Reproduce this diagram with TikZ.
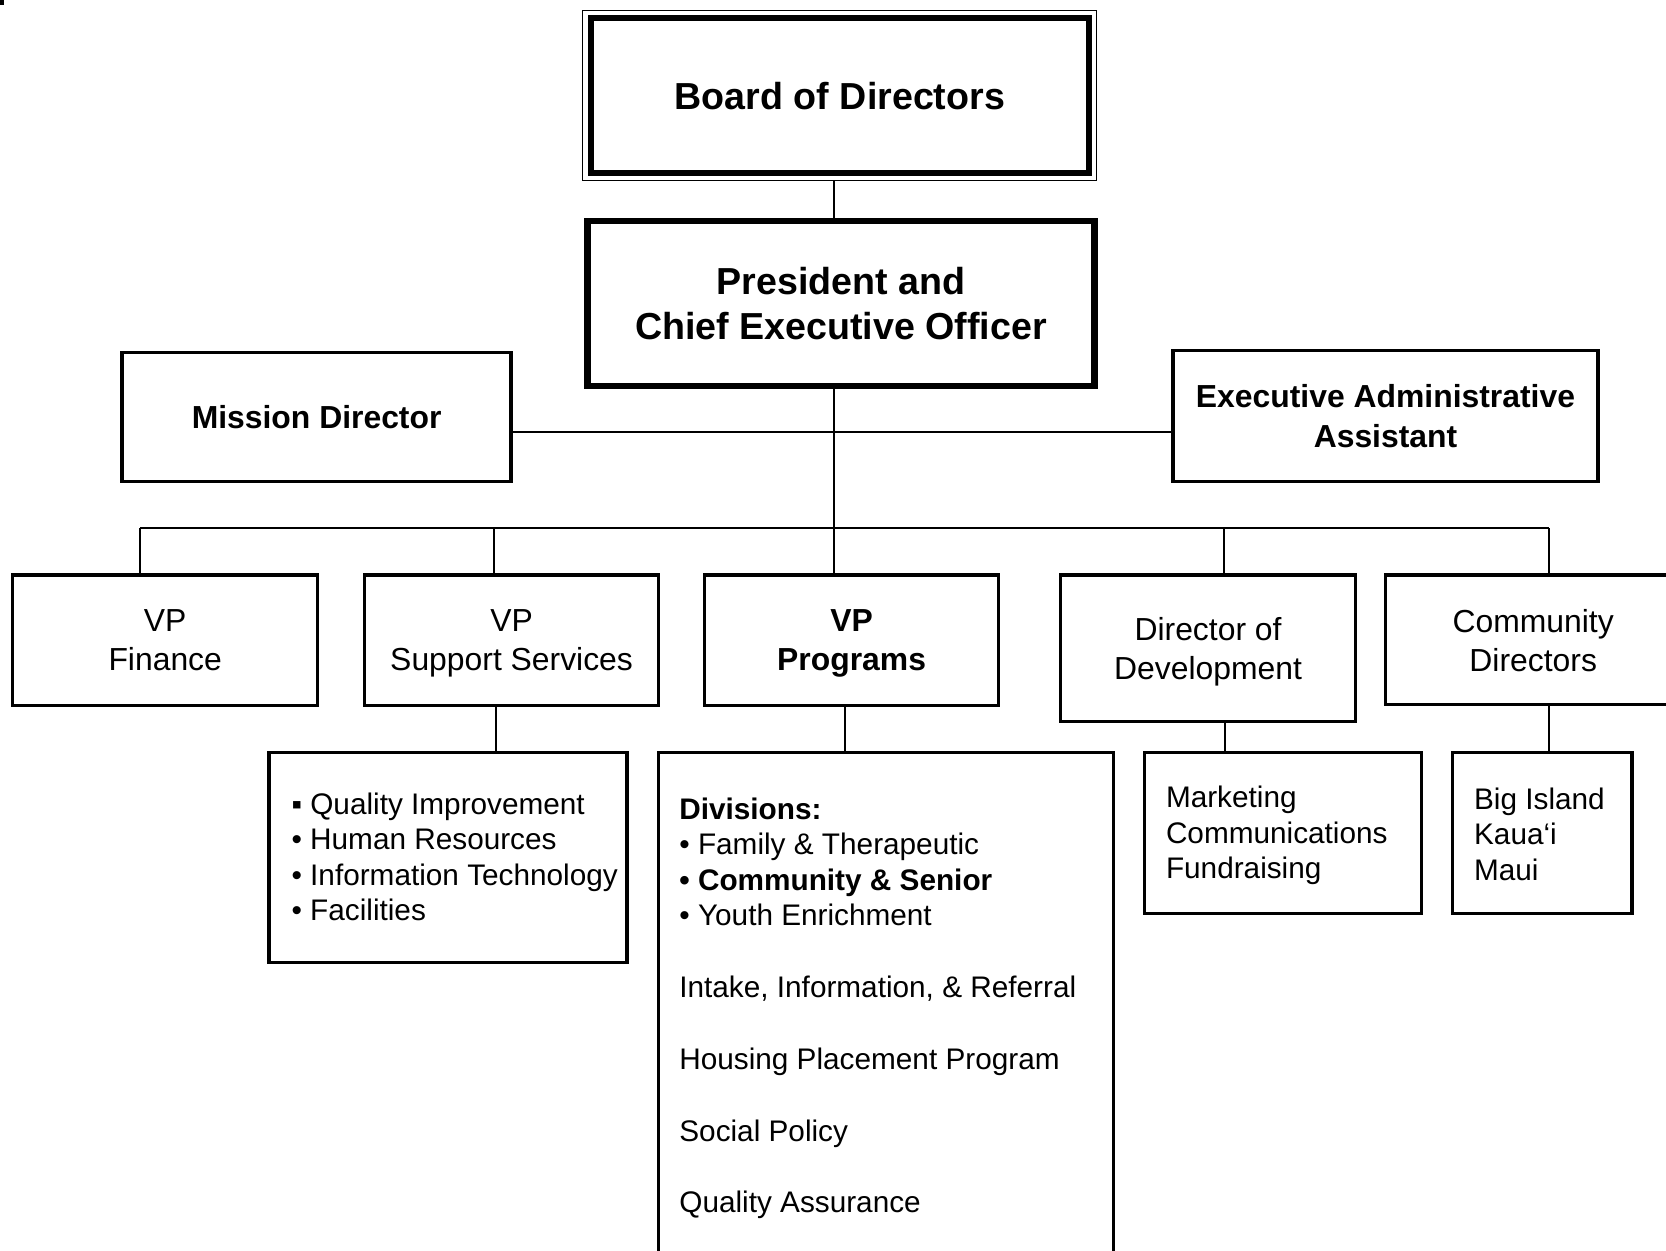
\documentclass[tikz,border=0pt]{standalone}
\usepackage{fontspec}
\setmainfont{Liberation Sans}
\begin{document}
\begin{tikzpicture}[x=0.5pt,y=-0.5pt,
  box/.style={draw, line width=1.6pt, inner sep=0pt, align=center},
  link/.style={line width=0.9pt},
  head/.style={font=\fontsize{15}{18.5}\selectfont, text depth=0pt},
  headb/.style={font=\fontsize{15}{18.5}\selectfont\bfseries, text depth=0pt},
  topb/.style={font=\fontsize{17.7}{21}\selectfont\bfseries},
  list/.style={font=\fontsize{14}{16.75}\selectfont, align=left, inner sep=0pt, anchor=west}
]
\useasboundingbox (0,0) rectangle (1568,1177);
\begin{scope}
\clip (0,0) rectangle (1568,1177);

% corner mark
\fill (0,0) rectangle (4,5);

% top levels
\node[box, line width=0.7pt, minimum width=242pt, minimum height=80pt] (boardout) at (790,90) {};
\node[box, line width=2.6pt, minimum width=234.5pt, minimum height=73pt, topb] (board) at (790.5,90) {Board of Directors};
\node[box, line width=3pt, minimum width=238.5pt, minimum height=77.5pt, topb] (ceo) at (791.5,285.5) {President and\\Chief Executive Officer};
\node[box, minimum width=183pt, minimum height=60.5pt, headb] (mission) at (298,392.5) {Mission Director};
\node[box, minimum width=200pt, minimum height=61.5pt, headb] (exec) at (1304,391.5) {Executive Administrative\\Assistant};

% second level
\node[box, minimum width=143.5pt, minimum height=61.5pt, head] (fin) at (155.5,602.5) {VP\\Finance};
\node[box, minimum width=138.5pt, minimum height=61.5pt, head] (sup) at (481.5,602.5) {VP\\Support Services};
\node[box, minimum width=138.5pt, minimum height=61.5pt, headb] (prog) at (801.5,602.5) {VP\\Programs};
\node[box, minimum width=139pt, minimum height=69pt, head] (dev) at (1137,610) {Director of\\Development};
\node[box, minimum width=148pt, minimum height=61pt] (com) at (1452,602) {};
\node[head, align=center, inner sep=0pt] (comtext) at (1443,603) {Community\\Directors};

% third level
\node[box, minimum width=168.5pt, minimum height=99pt] (suplist) at (421.5,807) {};
\node[box, minimum width=214pt, minimum height=296pt] (proglist) at (834,1004) {};
\node[box, minimum width=130.5pt, minimum height=76pt] (mkt) at (1207.5,784) {};
\node[box, minimum width=84.5pt, minimum height=76pt] (isl) at (1451.5,784) {};

\node[list] (suptext) at (274,806.5) {▪ Quality Improvement\\• Human Resources\\• Information Technology\\• Facilities};
\node[list] (progtext) at (639,949) {{\bfseries Divisions:}\\• Family \& Therapeutic\\{\bfseries • Community \& Senior}\\• Youth Enrichment\\[17pt]Intake, Information, \& Referral\\[17pt]Housing Placement Program\\[17pt]Social Policy\\[17pt]Quality Assurance};
\node[list] (mkttext) at (1097,786.5) {Marketing\\Communications\\Fundraising};
\node[list] (isltext) at (1387,785) {Big Island\\Kaua‘i\\Maui};

% connectors
\coordinate (spine) at (785,0);
\coordinate (row) at (0,407);
\coordinate (bus) at (785,497);
\coordinate (d1) at (132,497);
\coordinate (d2) at (465,497);
\coordinate (d4) at (1152,497);
\coordinate (d5) at (1458,497);
\draw[link] (boardout.south -| spine) -- (ceo.north -| spine);
\draw[link] (mission.east |- row) -- (exec.west |- row);
\draw[link] (ceo.south -| spine) -- (bus);
\draw[link] (d1) -- (d5);
\draw[link] (d1) -- (d1 |- fin.north);
\draw[link] (d2) -- (d2 |- sup.north);
\draw[link] (bus) -- (bus |- prog.north);
\draw[link] (d4) -- (d4 |- dev.north);
\draw[link] (d5) -- (d5 |- com.north);

\coordinate (s1) at (467,0);
\coordinate (s2) at (795,0);
\coordinate (s3) at (1153,0);
\coordinate (s4) at (1458,0);
\draw[link] (sup.south -| s1) -- (suplist.north -| s1);
\draw[link] (prog.south -| s2) -- (proglist.north -| s2);
\draw[link] (dev.south -| s3) -- (mkt.north -| s3);
\draw[link] (com.south -| s4) -- (isl.north -| s4);
\end{scope}
\end{tikzpicture}
\end{document}
